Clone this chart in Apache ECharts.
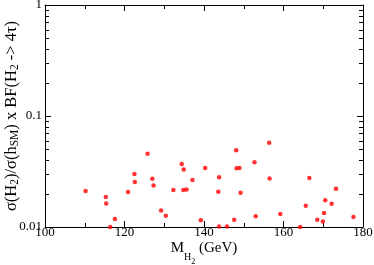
<!DOCTYPE html>
<html>
<head>
<meta charset="utf-8">
<script src="https://cdn.jsdelivr.net/npm/echarts@6/dist/echarts.min.js"></script>
<style>html,body{margin:0;padding:0;background:#fff;}#c{width:374px;height:265px;}</style>
</head>
<body>
<div id="c"></div>
<script>
var massGeV = [110.2,115.3,115.4,116.4,117.6,120.9,122.5,122.6,125.8,127.0,127.3,129.2,130.4,132.3,134.4,134.8,134.9,135.6,137.1,139.2,140.3,143.6,143.8,143.8,145.8,147.6,148.1,148.2,148.9,149.2,152.7,153.0,156.4,156.5,159.2,164.2,165.6,166.5,168.5,169.9,170.2,170.5,172.1,173.2,177.6];
var ratio = [0.0211,0.0186,0.0163,0.0100,0.0118,0.0207,0.0300,0.0254,0.0458,0.0272,0.0237,0.0141,0.0126,0.0215,0.0370,0.0215,0.0329,0.0218,0.0265,0.0115,0.0340,0.0208,0.0280,0.0101,0.0101,0.0116,0.0491,0.0338,0.0340,0.0203,0.0383,0.0125,0.0575,0.0274,0.0131,0.0100,0.0155,0.0276,0.0116,0.0112,0.0134,0.0174,0.0162,0.0221,0.0123];
var xTicks = [100,120,140,160,180];
var yTickLabels = ['0.01','0.1','1'];
var yMinorTicks = [0.02,0.03,0.04,0.05,0.06,0.07,0.08,0.09,0.2,0.3,0.4,0.5,0.6,0.7,0.8,0.9];

var points = massGeV.map(function(m,i){return [m, ratio[i]];});
var font = '"Liberation Serif","DejaVu Serif",serif';
var chart = echarts.init(document.getElementById('c'));
var axLine = {show:true, lineStyle:{color:'#000', width:1}};
chart.setOption({
  animation:false,
  grid:{left:45, right:11, top:5, bottom:38, containLabel:false, outerBoundsMode:'none'},
  xAxis:[{
    type:'value', min:100, max:180, interval:20, position:'bottom',
    axisLine:axLine,
    axisTick:{inside:true, length:6, lineStyle:{color:'#000'}},
    minorTick:{show:true, splitNumber:2, length:4, lineStyle:{color:'#000'}},
    splitLine:{show:false},
    axisLabel:{color:'#000', fontFamily:font, fontSize:13, margin:-1},
    name:'M{sub|H}{sub2|2} (GeV)', nameLocation:'middle', nameGap:14, nameMoveOverlap:false,
    nameTextStyle:{color:'#000', fontFamily:font, fontSize:15,
      rich:{sub:{fontFamily:font, fontSize:10, color:'#000', verticalAlign:'bottom', padding:[0,0,-6,0]},
            sub2:{fontFamily:font, fontSize:8, color:'#000', verticalAlign:'bottom', padding:[0,0,-10,0]}}}
  },{
    type:'value', min:100, max:180, interval:20, position:'top',
    axisLine:axLine,
    axisTick:{inside:true, length:6, lineStyle:{color:'#000'}},
    minorTick:{show:true, splitNumber:2, length:4, lineStyle:{color:'#000'}},
    splitLine:{show:false}, axisLabel:{show:false}
  }],
  yAxis:[{
    type:'log', logBase:10, min:0.01, max:1, position:'left',
    axisLine:axLine,
    axisTick:{inside:true, length:6, lineStyle:{color:'#000'}},
    splitLine:{show:false},
    axisLabel:{color:'#000', fontFamily:font, fontSize:13, margin:3,
      formatter:function(v){ var e=Math.round(Math.log10(v)); return yTickLabels[e+2]; }},
    name:'σ(H{s|2})/σ(h{s|SM}) x BF(H{s|2} -> 4τ)', nameLocation:'middle', nameGap:25, nameMoveOverlap:false,
    nameTextStyle:{color:'#000', fontFamily:font, fontSize:16.5,
      rich:{s:{fontFamily:font, fontSize:11.5, color:'#000', padding:[0,0,-6,0]}}}
  },{
    type:'log', logBase:10, min:0.01, max:1, position:'right',
    axisLine:axLine,
    axisTick:{inside:true, length:6, lineStyle:{color:'#000'}},
    splitLine:{show:false}, axisLabel:{show:false}
  }],
  series:[{
    type:'custom', xAxisIndex:0, yAxisIndex:0, silent:true,
    data: yMinorTicks.map(function(v){return [100, v];}),
    renderItem:function(params, api){
      var cs = params.coordSys;
      var p = api.coord([100, api.value(1)]);
      var y = Math.round(p[1]) + 0.5;
      return {type:'group', children:[
        {type:'line', shape:{x1:cs.x, y1:y, x2:cs.x+4, y2:y}, style:{stroke:'#000', lineWidth:1}},
        {type:'line', shape:{x1:cs.x+cs.width-4, y1:y, x2:cs.x+cs.width, y2:y}, style:{stroke:'#000', lineWidth:1}}
      ]};
    },
    z:1
  },{
    type:'scatter', xAxisIndex:0, yAxisIndex:0,
    data:points, symbol:'circle', symbolSize:4.5,
    itemStyle:{color:'#ff0000'}, clip:false, z:3
  }]
});
</script>
</body>
</html>
